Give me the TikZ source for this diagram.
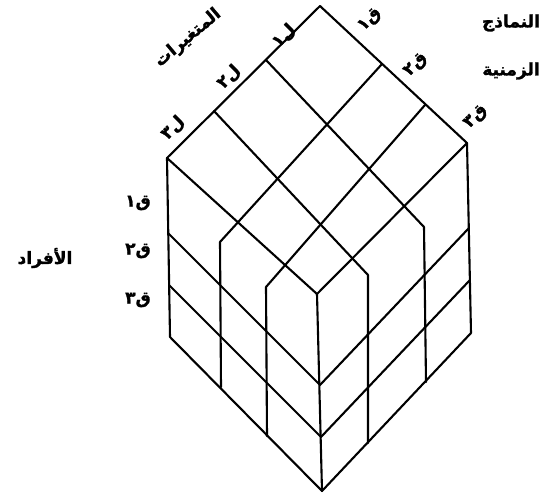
\documentclass[tikz,border=0pt]{standalone}
\usepackage{fontspec}
\newfontfamily\arabicfont[Script=Arabic,FakeBold=1.5]{DejaVu Sans}
\TeXXeTstate=1
\begin{document}
\begin{tikzpicture}[x=1pt,y=-1pt,
  edge/.style={line width=2.1pt, line join=round, line cap=round},
  lbl/.style={font=\arabicfont\bfseries\fontsize{17}{19}\selectfont, inner sep=0pt}]
\useasboundingbox (0,0) rectangle (546,497);
% cube vertices
\coordinate (T) at (320,6);
\coordinate (L) at (167,158);
\coordinate (R) at (467,143);
\coordinate (F) at (317,294);
\coordinate (BL) at (170,337);
\coordinate (BR) at (471,333);
\coordinate (B) at (322,491);
% divisions of the top edges
\coordinate (Q1) at (266,60);
\coordinate (Q2) at (214,111);
\coordinate (P1) at (382,64);
\coordinate (P2) at (425,105);
% bends and feet of the column lines
\coordinate (b1) at (220,242);
\coordinate (v1b) at (221,387);
\coordinate (b2) at (266,287);
\coordinate (v2b) at (267,436);
\coordinate (b3) at (368,275);
\coordinate (v3b) at (368,443);
\coordinate (b4) at (424,227);
\coordinate (v4b) at (426,382);
% row lines
\coordinate (l1) at (168,233);
\coordinate (l2) at (169,285);
\coordinate (f1) at (320,385);
\coordinate (f2) at (321,437);
\coordinate (r1) at (469,228);
\coordinate (r2) at (470,280);
% outline
\draw[edge] (T) -- (L) -- (BL) -- (B) -- (BR) -- (R) -- cycle;
\draw[edge] (L) -- (F) -- (R);
\draw[edge] (F) -- (B);
% grid
\draw[edge] (Q1) -- (b4) -- (v4b);
\draw[edge] (Q2) -- (b3) -- (v3b);
\draw[edge] (P1) -- (b1) -- (v1b);
\draw[edge] (P2) -- (b2) -- (v2b);
\draw[edge] (l1) -- (f1) -- (r1);
\draw[edge] (l2) -- (f2) -- (r2);
% labels
\node[lbl, rotate=40] (var) at (188,38) {\beginR المتغيرات\endR};
\node[lbl, rotate=45] (lA) at (284,36) {\beginR ل١\endR};
\node[lbl, rotate=45] (lB) at (229,77) {\beginR ل٢\endR};
\node[lbl, rotate=45] (lC) at (173,128) {\beginR ل٣\endR};
\node[lbl, rotate=45] (qA) at (370,20) {\beginR ق١\endR};
\node[lbl, rotate=45] (qB) at (416,65) {\beginR ق٢\endR};
\node[lbl, rotate=45] (qC) at (476,117) {\beginR ق٣\endR};
\node[lbl] (nm) at (511,23) {\beginR النماذج\endR};
\node[lbl] (zm) at (511,71) {\beginR الزمنية\endR};
\node[lbl] (iA) at (138,203) {\beginR ق١\endR};
\node[lbl] (iB) at (138,251) {\beginR ق٢\endR};
\node[lbl] (iC) at (138,300) {\beginR ق٣\endR};
\node[lbl] (af) at (45,258) {\beginR الأفراد\endR};
\end{tikzpicture}
\end{document}
